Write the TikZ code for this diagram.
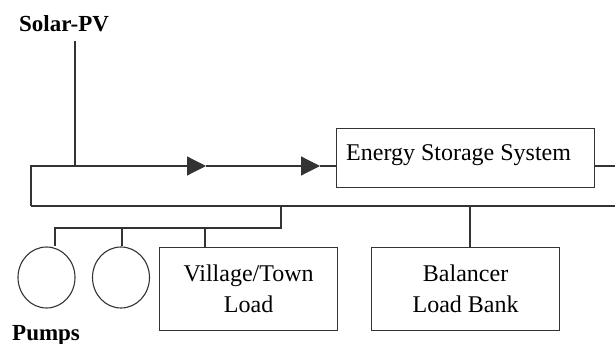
\documentclass[tikz,border=0pt]{standalone}
\usepackage{fontspec}
\setmainfont{Liberation Serif}
\usetikzlibrary{arrows.meta,shapes.geometric}
\begin{document}
\begin{tikzpicture}[x=1pt,y=-1pt,
  wire/.style={draw=black!80,line width=1.2pt},
  arr/.style={wire,-{Triangle[length=19pt,width=19pt]}},
  boxnode/.style={draw=black!80,line width=1.2pt,rectangle,inner sep=0pt,align=center,
     font=\fontsize{24}{31}\selectfont},
  pump/.style={draw=black!80,line width=1.1pt,ellipse,inner sep=0pt,minimum width=57pt,minimum height=61pt},
  lbl/.style={inner sep=0pt,font=\fontsize{23}{27}\selectfont\bfseries}]
\useasboundingbox (0,0) rectangle (615,344);
% labels
\node[lbl,anchor=base west] (solar) at (19,32) {Solar-PV};
\node[lbl,anchor=base west] (pumps) at (12,340) {Pumps};
% boxes
\node[boxnode,minimum width=258pt,minimum height=59pt,anchor=north west] (ess) at (336,128) {};
\node[inner sep=0pt,anchor=base west,font=\fontsize{24}{31}\selectfont] (esst) at (346,161) {Energy Storage System};
\node[boxnode,minimum width=178pt,minimum height=83pt,anchor=north west] (vil) at (159,247) {Village/Town\\Load};
\node[boxnode,minimum width=188pt,minimum height=83pt,anchor=north west] (bal) at (371,247) {Balancer\\Load Bank};
\node[pump] (p1) at (46.5,277.5) {};
\node[pump] (p2) at (121,277.5) {};
% coordinates
\coordinate (stop) at (75,41);
\coordinate (sj) at (75,166);
\coordinate (tl) at (31,166);
\coordinate (a1) at (206,166);
\coordinate (a2) at (320,166);
\coordinate (bl) at (31,206);
\coordinate (br) at (615,206);
\coordinate (rr) at (615,166);
\coordinate (bj) at (281,206);
\coordinate (lj) at (281,228);
\coordinate (k1) at (55,228);
\coordinate (k2) at (122,228);
\coordinate (k3) at (205,228);
\coordinate (bj2) at (470,206);
% wires
\draw[wire] (stop) -- (sj);
\draw[arr] (bl) |- (a1);
\draw[arr] (a1) -- (a2);
\draw[wire] (a2) -- (ess.west |- a2);
\draw[wire] (ess.east |- rr) -- (rr);
\draw[wire] (bl) -- (br);
\draw[wire] (bj) -- (lj) -- (k1) -- (k1 |- p1.north);
\draw[wire] (k2) -- (k2 |- p2.north);
\draw[wire] (k3) -- (k3 |- vil.north);
\draw[wire] (bj2) -- (bj2 |- bal.north);
\end{tikzpicture}
\end{document}
